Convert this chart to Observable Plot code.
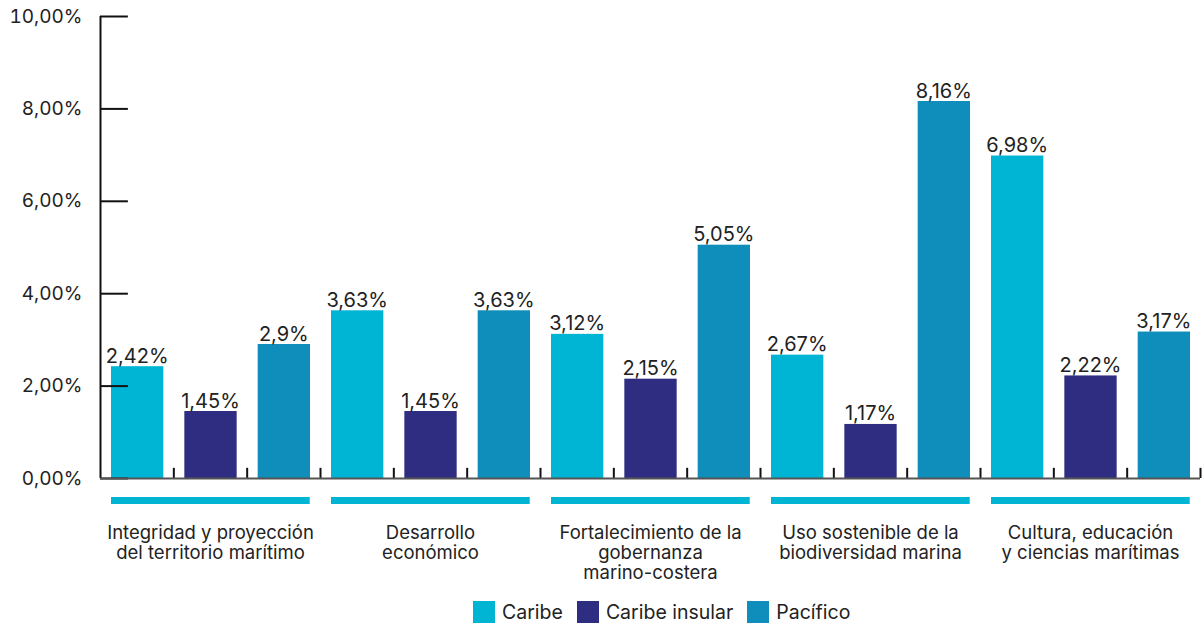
<!DOCTYPE html>
<html>
<head>
<meta charset="utf-8">
<script src="https://cdn.jsdelivr.net/npm/d3@7"></script>
<script src="https://cdn.jsdelivr.net/npm/@observablehq/plot@0.6"></script>
<style>
  html, body { margin: 0; padding: 0; background: #fff; overflow: hidden; }
  body { font-family: Inter, sans-serif; color: #222; }
  #wrap { position: relative; width: 1203px; height: 627px; }
  #legend { position: absolute; top: 600px; left: 473px; display: flex; align-items: center; font-size: 19.5px; color: #222; }
  .item { display: flex; align-items: center; margin-right: 14px; }
  .sw { width: 22px; height: 22px; margin-right: 7px; }
</style>
</head>
<body>
<div id="wrap"><div id="chart"></div><div id="legend"></div></div>
<script>
const groups = [
  "Integridad y proyección\ndel territorio marítimo",
  "Desarrollo\neconómico",
  "Fortalecimiento de la\ngobernanza\nmarino-costera",
  "Uso sostenible de la\nbiodiversidad marina",
  "Cultura, educación\ny ciencias marítimas"
];
const series = ["Caribe", "Caribe insular", "Pacífico"];
const caribe = [2.42, 3.63, 3.12, 2.67, 6.98];
const caribeInsular = [1.45, 1.45, 2.15, 1.17, 2.22];
const pacifico = [2.9, 3.63, 5.05, 8.16, 3.17];
const yTicks = [0, 2, 4, 6, 8, 10];
const colors = ["#00b5d4", "#2e2d82", "#0f8dbb"];

const valuesBySeries = [caribe, caribeInsular, pacifico];
const data = groups.flatMap((g, gi) => series.map((s, si) => ({
  group: g, gi, series: s, si, idx: gi * 3 + si, value: valuesBySeries[si][gi]
})));
const nSlots = groups.length * series.length;
const groupIdx = groups.map((g, i) => ({label: g, i}));

const fmtVal = d => String(d.value).replace(".", ",") + "%";
const fmtTick = d => d.toFixed(2).replace(".", ",") + "%";

const H = 596;
const chart = Plot.plot({
  width: 1203,
  height: H,
  marginLeft: 100,
  marginRight: 3,
  marginTop: 16,
  marginBottom: H - 478,
  style: {fontFamily: "Inter, sans-serif", color: "#222", background: "#fff"},
  x: {domain: [0, nSlots], axis: null},
  y: {domain: [0, 10]},
  color: {domain: series, range: colors},
  marks: [
    Plot.axisY(yTicks, {tickSize: 0, tickPadding: 18, tickFormat: fmtTick, fontSize: 19, label: null}),
    Plot.rectY(data, {x1: d => d.idx, x2: d => d.idx + 1, y: "value", fill: "series", insetLeft: 11, insetRight: 10}),
    Plot.text(data, {x: d => d.idx + 0.5, y: "value", text: fmtVal, lineAnchor: "bottom", dy: -4, fontSize: 20, fill: "#222"}),
    Plot.ruleY(yTicks, {x1: 0, x2: 0.38, stroke: "#111", strokeWidth: 2}),
    Plot.ruleX(d3.range(1, nSlots + 1), {y1: 0, y2: 0.22, stroke: "#111", strokeWidth: 2}),
    Plot.ruleX([0], {y1: 0, y2: 10, stroke: "#111", strokeWidth: 2}),
    Plot.ruleY([0], {x1: 0, x2: nSlots, stroke: "#555", strokeWidth: 2}),
    Plot.ruleY(groupIdx, {y: 0, x1: d => d.i * 3 + 0.15, x2: d => d.i * 3 + 2.86, dy: 22, stroke: colors[0], strokeWidth: 7}),
    Plot.text(groupIdx, {x: d => d.i * 3 + 1.5, y: 0, dy: 46, text: "label", lineAnchor: "top", fontSize: 18.5, lineHeight: 1.09, fill: "#222"})
  ]
});
document.getElementById("chart").appendChild(chart);

const legend = document.getElementById("legend");
series.forEach((s, i) => {
  const it = document.createElement("div");
  it.className = "item";
  it.innerHTML = `<div class="sw" style="background:${colors[i]}"></div><span>${s}</span>`;
  legend.appendChild(it);
});
</script>
</body>
</html>
